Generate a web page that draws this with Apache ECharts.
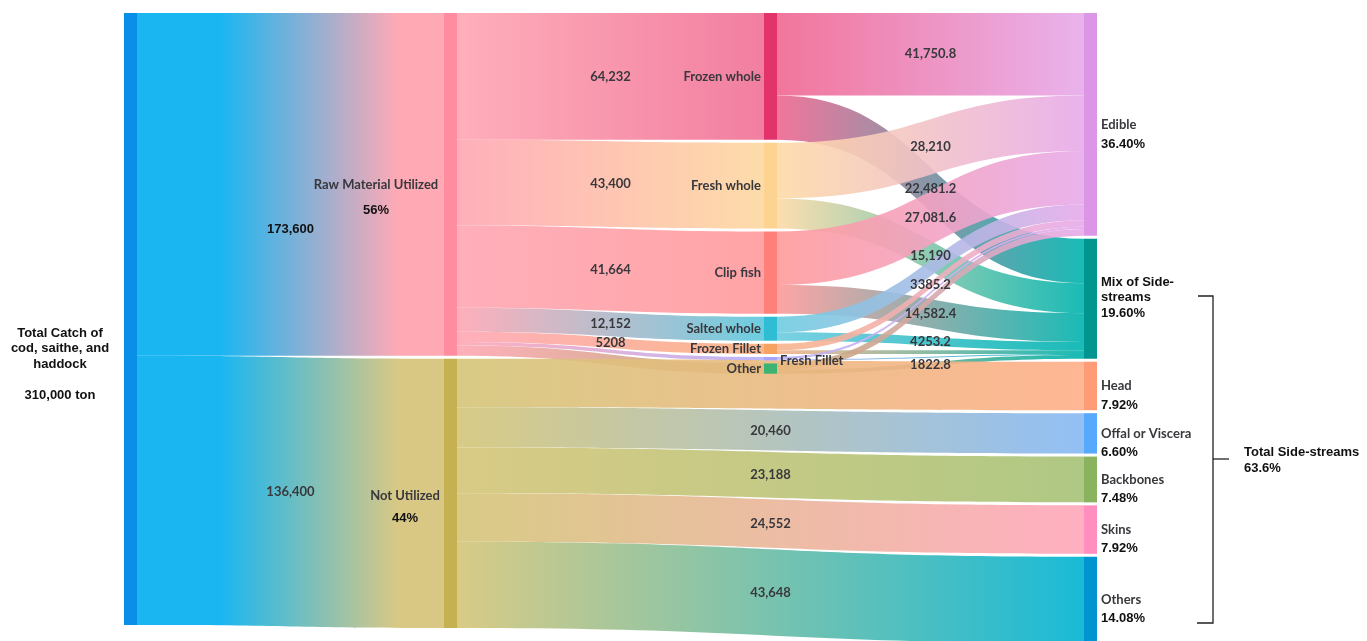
<!DOCTYPE html>
<html><head><meta charset="utf-8">
<script src="https://cdn.jsdelivr.net/npm/echarts@6/dist/echarts.min.js"></script>
<style>html,body{margin:0;padding:0;background:#fff}#c{width:1367px;height:641px}</style>
</head><body><div id="c"></div>
<script>
// ---------- DATA ----------
const sourceName = 'Total Catch';
const sourceLabel = ['Total Catch of', 'cod, saithe, and', 'haddock', '', '310,000 ton'];
const level1Names = ['Raw Material Utilized', 'Not Utilized'];
const level1Values = [173600, 136400];
const level1ValueLabels = ['173,600', '136,400'];
const level1Percents = ['56%', '44%'];
const productNames = ['Frozen whole', 'Fresh whole', 'Clip fish', 'Salted whole', 'Frozen Fillet', 'Fresh Fillet', 'Other'];
const productValues = [64232, 43400, 41664, 12152, 5208, 1736, 5208];
const productValueLabels = ['64,232', '43,400', '41,664', '12,152', '5208', '', ''];
const outcomeNames = ['Edible', 'Mix of Side-streams'];
const outcomePercents = ['36.40%', '19.60%'];
const productToEdible = [41750.8, 28210, 27081.6, 7898.8, 3385.2, 1128.4, 3385.2];
const productToEdibleLabels = ['41,750.8', '28,210', '27,081.6', '', '3385.2', '', ''];
const productToMix = [22481.2, 15190, 14582.4, 4253.2, 1822.8, 607.6, 1822.8];
const productToMixLabels = ['22,481.2', '15,190', '14,582.4', '4253.2', '', '', '1822.8'];
const sideStreamNames = ['Head', 'Offal or Viscera', 'Backbones', 'Skins', 'Others'];
const sideStreamValues = [24552, 20460, 23188, 24552, 43648];
const sideStreamValueLabels = ['', '20,460', '23,188', '24,552', '43,648'];
const sideStreamPercents = ['7.92%', '6.60%', '7.48%', '7.92%', '14.08%'];
const totalSideStreamsLabel = ['Total Side-streams', '63.6%'];

// ---------- STYLE ----------
const nodeColors = {
  'Total Catch': '#0a8fe8', 'Raw Material Utilized': '#ff8c9f', 'Not Utilized': '#c5b151',
  'Frozen whole': '#e3336b', 'Fresh whole': '#fcd390', 'Clip fish': '#ff7f7b', 'Salted whole': '#2fbdd5',
  'Frozen Fillet': '#f5a263', 'Fresh Fillet': '#a8a2f8', 'Other': '#3db372',
  'Edible': '#db97e5', 'Mix of Side-streams': '#00958f', 'Head': '#ff9c78', 'Offal or Viscera': '#57a9fe',
  'Backbones': '#8ab35f', 'Skins': '#fe8fbf', 'Others': '#0095d0'
};
const linkFrom = {
  'Total Catch': '#00aef0', 'Raw Material Utilized': '#ffa6b3', 'Not Utilized': '#d4c578',
  'Frozen whole': '#f06690', 'Fresh whole': '#fddaa6', 'Clip fish': '#ff9a9a', 'Salted whole': '#6dcce0',
  'Frozen Fillet': '#f8b48a', 'Fresh Fillet': '#b9b2fa', 'Other': '#c4a66c'
};
const linkTo = {
  'Raw Material Utilized': '#ffa0ad', 'Not Utilized': '#d5c277', 'Frozen whole': '#f07096',
  'Fresh whole': '#fdd8a0', 'Clip fish': '#ff9a9c', 'Salted whole': '#5cc8dd', 'Frozen Fillet': '#f8b080',
  'Fresh Fillet': '#b5aefa', 'Other': '#b9a872', 'Edible': '#e7aaea', 'Mix of Side-streams': '#00b3ae',
  'Head': '#ffae88', 'Offal or Viscera': '#86b8f4', 'Backbones': '#a6c276', 'Skins': '#ffa6ba', 'Others': '#00b3d2'
};
const GRAY = '#38383d', BLACK = '#111';
const grayFont = 'Lato, "Open Sans", sans-serif';
const blackFont = '"Liberation Sans", Arial, sans-serif';
const rich = {
  g: { fontFamily: grayFont, fontWeight: 700, fontSize: 13, color: GRAY },
  p: { fontFamily: blackFont, fontWeight: 'bold', fontSize: 13, color: BLACK },
  k: { fontFamily: blackFont, fontWeight: 'bold', fontSize: 13, color: BLACK, lineHeight: 15.5 },
  e: { fontFamily: grayFont, fontWeight: 700, fontSize: 13, color: GRAY },
  b: { fontFamily: blackFont, fontWeight: 'bold', fontSize: 13, color: BLACK, padding: [90, 0, 0, 0] }
};

// ---------- BUILD ----------
const nodes = [];
function addNode(name, label) { nodes.push({ name, itemStyle: { color: nodeColors[name] }, label }); }

addNode(sourceName, {
  position: [-64, 351], align: 'center', verticalAlign: 'middle', lineHeight: 15.5,
  formatter: sourceLabel.map(s => s ? '{k|' + s + '}' : '').join('\n'), rich
});
addNode(level1Names[0], {
  position: [-68, 184.5], align: 'center', verticalAlign: 'middle', lineHeight: 25,
  formatter: '{g|' + level1Names[0] + '}\n{p|' + level1Percents[0] + '}', rich
});
addNode(level1Names[1], {
  position: [-39, 148.5], align: 'center', verticalAlign: 'middle', lineHeight: 23,
  formatter: '{g|' + level1Names[1] + '}\n{p|' + level1Percents[1] + '}', rich
});
productNames.forEach(n => {
  if (n === 'Fresh Fillet') addNode(n, { position: 'right', distance: 3, offset: [0, 2], formatter: '{g|' + n + '}', rich });
  else addNode(n, { position: 'left', distance: 3, formatter: '{g|' + n + '}', rich });
});
addNode(outcomeNames[0], { position: 'right', distance: 4, lineHeight: 20, offset: [0, 10],
  formatter: '{g|' + outcomeNames[0] + '}\n{p|' + outcomePercents[0] + '}', rich });
addNode(outcomeNames[1], { position: 'right', distance: 4, lineHeight: 15.5, offset: [0, -1],
  formatter: '{p|Mix of Side-}\n{p|streams}\n{p|' + outcomePercents[1] + '}', rich });
sideStreamNames.forEach((n, i) => addNode(n, { position: 'right', distance: 4, lineHeight: 19, offset: [0, 9.5],
  formatter: '{g|' + n + '}\n{p|' + sideStreamPercents[i] + '}', rich }));

const links = [];
function addLink(s, t, v, txt, style) {
  links.push({
    source: s, target: t, value: v, labelText: txt, labelStyle: style || 'e',
    lineStyle: {
      color: { type: 'linear', x: 0, y: 0, x2: 1, y2: 0,
        colorStops: s === sourceName
          ? [{ offset: 0, color: linkFrom[s] }, { offset: 0.27, color: linkFrom[s] }, { offset: 0.85, color: linkTo[t] }, { offset: 1, color: linkTo[t] }]
          : [{ offset: 0, color: linkFrom[s] }, { offset: 1, color: linkTo[t] }] },
      opacity: 0.9
    }
  });
}
level1Names.forEach((n, i) => addLink(sourceName, n, level1Values[i], level1ValueLabels[i], i === 0 ? 'b' : 'e'));
productNames.forEach((n, i) => addLink(level1Names[0], n, productValues[i], productValueLabels[i]));
productNames.forEach((n, i) => {
  addLink(n, outcomeNames[0], productToEdible[i], productToEdibleLabels[i]);
  addLink(n, outcomeNames[1], productToMix[i], productToMixLabels[i]);
});
sideStreamNames.forEach((n, i) => addLink(level1Names[1], n, sideStreamValues[i], sideStreamValueLabels[i]));

const chart = echarts.init(document.getElementById('c'), null, { renderer: 'canvas' });
chart.setOption({
  backgroundColor: '#fff',
  animation: false,
  series: [{
    type: 'sankey',
    left: 124, right: 270, top: 13, bottom: -2,
    nodeWidth: 13, nodeGap: 3,
    layoutIterations: 0,
    nodeAlign: 'justify',
    draggable: false,
    emphasis: { disabled: true },
    itemStyle: { borderWidth: 0, opacity: 1 },
    label: { show: true, color: GRAY },
    edgeLabel: {
      show: true,
      formatter: p => p.data.labelText ? '{' + p.data.labelStyle + '|' + p.data.labelText + '}' : '',
      rich
    },
    data: nodes,
    links: links
  }],
  graphic: [
    { type: 'polyline', shape: { points: [[1198, 296], [1213, 296], [1213, 623], [1197, 623]] },
      style: { stroke: '#222', lineWidth: 1.3, fill: null } },
    { type: 'line', shape: { x1: 1213, y1: 459, x2: 1229, y2: 459 }, style: { stroke: '#222', lineWidth: 1.3 } },
    { type: 'text', x: 1244, y: 460.5,
      style: { text: totalSideStreamsLabel.join('\n'), font: 'bold 13px "Liberation Sans", Arial, sans-serif',
        fill: BLACK, lineHeight: 15.5, verticalAlign: 'middle', align: 'left' } }
  ]
});
</script></body></html>
